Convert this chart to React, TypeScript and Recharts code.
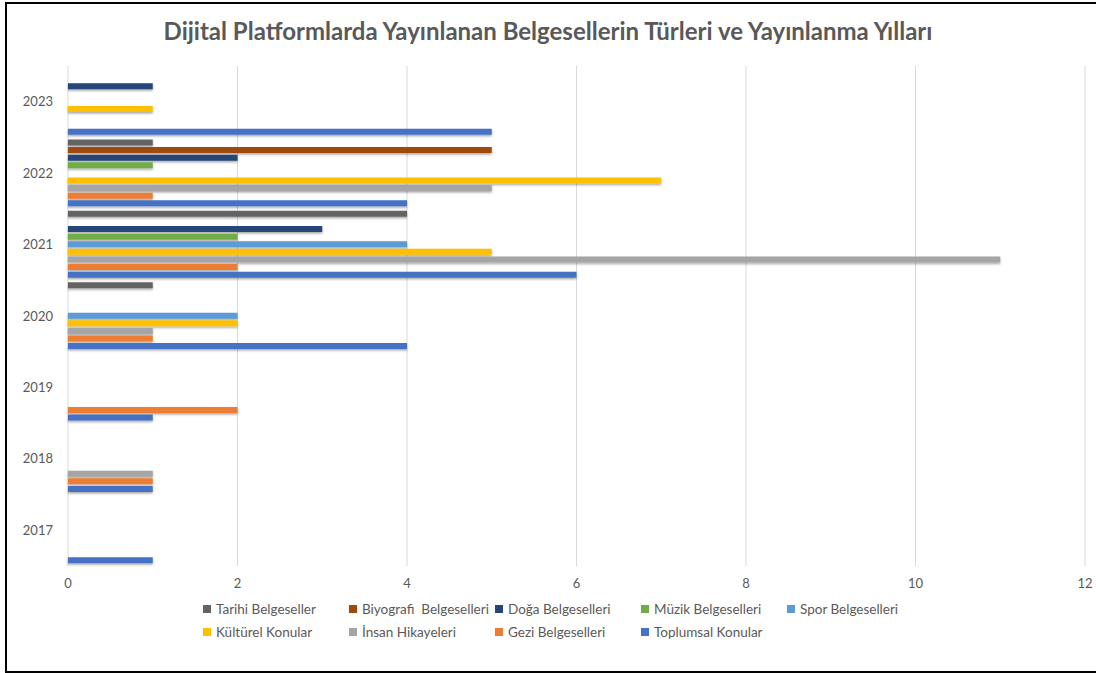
import { BarChart, Bar, XAxis, YAxis, CartesianGrid } from "recharts";

// Years top to bottom, as drawn in the chart
const years = ["2023", "2022", "2021", "2020", "2019", "2018", "2017"];

const tarihi = [0, 1, 4, 1, 0, 0, 0];
const biyografi = [0, 5, 0, 0, 0, 0, 0];
const doga = [1, 2, 3, 0, 0, 0, 0];
const muzik = [0, 1, 2, 0, 0, 0, 0];
const spor = [0, 0, 4, 2, 0, 0, 0];
const kulturel = [1, 7, 5, 2, 0, 0, 0];
const insan = [0, 5, 11, 1, 0, 1, 0];
const gezi = [0, 1, 2, 1, 2, 1, 0];
const toplumsal = [5, 4, 6, 4, 1, 1, 1];

const xTicks = [0, 2, 4, 6, 8, 10, 12];

const series = [
  { key: "tarihi", name: "Tarihi Belgeseller", color: "#636363", values: tarihi },
  { key: "biyografi", name: "Biyografi  Belgeselleri", color: "#9E480E", values: biyografi },
  { key: "doga", name: "Doğa Belgeselleri", color: "#264478", values: doga },
  { key: "muzik", name: "Müzik Belgeselleri", color: "#70AD47", values: muzik },
  { key: "spor", name: "Spor Belgeselleri", color: "#5B9BD5", values: spor },
  { key: "kulturel", name: "Kültürel Konular", color: "#FFC000", values: kulturel },
  { key: "insan", name: "İnsan Hikayeleri", color: "#A5A5A5", values: insan },
  { key: "gezi", name: "Gezi Belgeselleri", color: "#ED7D31", values: gezi },
  { key: "toplumsal", name: "Toplumsal Konular", color: "#4472C4", values: toplumsal },
];

const rows = years.map((year, i) => {
  const row: Record<string, string | number> = { year };
  series.forEach((s) => (row[s.key] = s.values[i]));
  return row;
});

const FONT = "Lato, 'Open Sans', sans-serif";
const TEXT = "#595959";

export default function App() {
  return (
    <div
      style={{
        position: "absolute",
        left: 5,
        top: 2,
        width: 1100,
        height: 667,
        border: "2px solid #000",
        background: "#fff",
        fontFamily: FONT,
      }}
    >
      <div
        style={{
          position: "absolute",
          left: 0,
          width: 1082,
          top: 12,
          textAlign: "center",
          fontSize: 24,
          fontWeight: 700,
          color: TEXT,
          lineHeight: "30px",
        }}
      >
        Dijital Platformlarda Yayınlanan Belgesellerin Türleri ve Yayınlanma Yılları
      </div>
      <div style={{ position: "absolute", left: 0, top: 0 }}>
        <BarChart
          width={1090}
          height={600}
          data={rows}
          layout="vertical"
          margin={{ top: 62, right: 12, left: 0, bottom: 8 }}
          barSize={6}
          barGap={1.6}
        >
          <defs>
            <filter id="barShadow" x="-5%" y="-60%" width="110%" height="260%">
              <feDropShadow dx="0" dy="1.5" stdDeviation="1" floodColor="#000" floodOpacity="0.35" />
            </filter>
          </defs>
          <CartesianGrid horizontal={false} stroke="#d9d9d9" />
          <XAxis
            type="number"
            domain={[0, 12]}
            ticks={xTicks}
            axisLine={false}
            tickLine={false}
            tickSize={0}
            tickMargin={13}
            height={30}
            tick={{ fontSize: 13, fill: TEXT, fontFamily: FONT }}
          />
          <YAxis
            type="category"
            dataKey="year"
            width={61}
            axisLine={false}
            tickLine={false}
            tickSize={0}
            tickMargin={15}
            tick={{ fontSize: 13, fill: TEXT, fontFamily: FONT }}
          />
          {series.map((s) => (
            <Bar
              key={s.key}
              dataKey={s.key}
              name={s.name}
              fill={s.color}
              isAnimationActive={false}
              style={{ filter: "url(#barShadow)" }}
            />
          ))}
        </BarChart>
      </div>
      <div
        style={{
          position: "absolute",
          left: 196,
          top: 593,
          width: 730,
          display: "flex",
          flexWrap: "wrap",
          fontSize: 13.5,
          color: TEXT,
        }}
      >
        {series.map((s) => (
          <div
            key={s.key}
            style={{ width: 146, height: 23, display: "flex", alignItems: "center", whiteSpace: "pre" }}
          >
            <span
              style={{ width: 8, height: 8, background: s.color, marginRight: 5, flexShrink: 0 }}
            />
            {s.name}
          </div>
        ))}
      </div>
    </div>
  );
}
